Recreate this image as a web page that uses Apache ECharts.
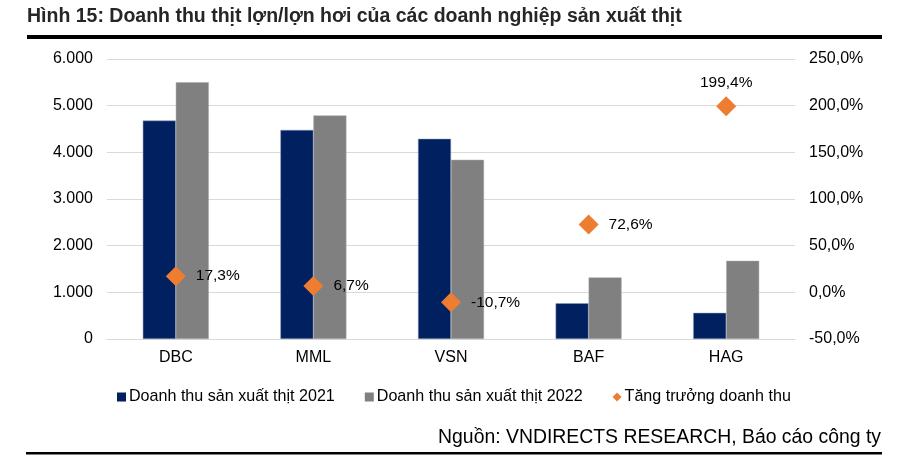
<!DOCTYPE html>
<html><head><meta charset="utf-8">
<script src="https://cdn.jsdelivr.net/npm/echarts@6/dist/echarts.min.js"></script>
<style>html,body{margin:0;padding:0;background:#fff}#c{width:922px;height:474px}</style>
</head><body><div id="c"></div>
<script>
const categories = ['DBC', 'MML', 'VSN', 'BAF', 'HAG'];
const revenue2021 = [4680, 4480, 4290, 765, 560];
const revenue2022 = [5500, 4790, 3840, 1320, 1675];
const growth = [17.3, 6.7, -10.7, 72.6, 199.4];
const leftTicks = { min: 0, max: 6000, interval: 1000 };
const rightTicks = { min: -50, max: 250, interval: 50 };
const seriesNames = ['Doanh thu sản xuất thịt 2021', 'Doanh thu sản xuất thịt 2022', 'Tăng trưởng doanh thu'];

const FONT = '"Liberation Sans", Arial, sans-serif';
const chart = echarts.init(document.getElementById('c'));
const pct = v => v.toFixed(1).replace('.', ',') + '%';
const thou = v => String(v).replace(/\B(?=(\d{3})+(?!\d))/g, '.');

chart.setOption({
  animation: false,
  textStyle: { fontFamily: FONT },
  grid: { left: 107, right: 127, top: 59, bottom: 135 },
  xAxis: {
    type: 'category', data: categories,
    axisTick: { show: false },
    axisLine: { lineStyle: { color: '#d9d9d9', width: 1 } },
    axisLabel: { color: '#000', fontSize: 16, fontFamily: FONT, margin: 11 }
  },
  yAxis: [
    { type: 'value', min: leftTicks.min, max: leftTicks.max, interval: leftTicks.interval,
      axisLabel: { color: '#000', fontSize: 16, fontFamily: FONT, formatter: thou, margin: 14 },
      splitLine: { lineStyle: { color: '#d9d9d9', width: 1 } },
      axisLine: { show: false }, axisTick: { show: false } },
    { type: 'value', min: rightTicks.min, max: rightTicks.max, interval: rightTicks.interval,
      axisLabel: { color: '#000', fontSize: 16, fontFamily: FONT, formatter: pct, margin: 14 },
      splitLine: { show: false }, axisLine: { show: false }, axisTick: { show: false } }
  ],
  legend: {
    top: 384, left: 112,
    itemWidth: 9, itemHeight: 9, itemGap: 30,
    itemStyle: { borderWidth: 0 },
    textStyle: { color: '#000', fontSize: 16.1, fontFamily: FONT, padding: [0, 0, 0, -2] },
    data: [
      { name: seriesNames[0], icon: 'rect' },
      { name: seriesNames[1], icon: 'rect' },
      { name: seriesNames[2], icon: 'diamond' }
    ]
  },
  series: [
    { name: seriesNames[0], type: 'bar', data: revenue2021, barWidth: 33, barGap: '0%',
      itemStyle: { color: '#002060', borderColor: '#8a9bb8', borderWidth: 0.5 } },
    { name: seriesNames[1], type: 'bar', data: revenue2022, barWidth: 33,
      itemStyle: { color: '#808080', borderColor: '#a8a8a8', borderWidth: 0.5 } },
    { name: seriesNames[2], type: 'scatter', yAxisIndex: 1, symbol: 'diamond', symbolSize: 20,
      itemStyle: { color: '#ed7d31', opacity: 1 },
      data: growth.map((v, i) => ({
        value: v,
        label: i === growth.length - 1 ? { position: 'top', distance: 6 } : { position: 'right', distance: 10 }
      })),
      label: { show: true, color: '#000', opacity: 1, textBorderWidth: 0, fontSize: 15.5, fontFamily: FONT, formatter: p => pct(p.value) } }
  ],
  graphic: [
    { type: 'text', left: 27, top: 7, style: { text: 'Hình 15: Doanh thu thịt lợn/lợn hơi của các doanh nghiệp sản xuất thịt',
      font: 'bold 19.5px "Liberation Sans", Arial, sans-serif', fill: '#262626' } },
    { type: 'rect', shape: { x: 27, y: 35, width: 855, height: 4 }, style: { fill: '#000' } },
    { type: 'text', right: 41, top: 428, style: { text: 'Nguồn: VNDIRECTS RESEARCH, Báo cáo công ty',
      font: '19.4px "Liberation Sans", Arial, sans-serif', fill: '#000' } },
    { type: 'rect', shape: { x: 26, y: 452, width: 856, height: 2.5 }, style: { fill: '#000' } }
  ]
});
</script></body></html>
